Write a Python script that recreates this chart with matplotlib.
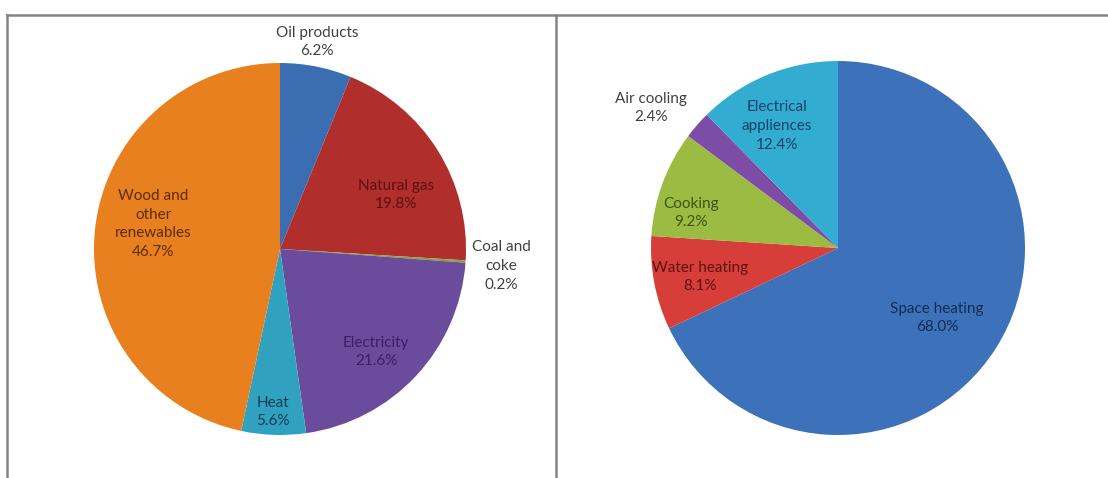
import matplotlib
matplotlib.use("Agg")
import matplotlib.pyplot as plt

# Final energy consumption by fuel (left) and by end use (right), percent
fuel_names = ["Oil products", "Natural gas", "Coal and\ncoke", "Electricity", "Heat",
              "Wood and\nother\nrenewables"]
fuel_share = [6.2, 19.8, 0.2, 21.6, 5.6, 46.7]
fuel_colors = ["#3b6db3", "#b02e2c", "#8aa53c", "#6b4c9c", "#30a2bf", "#e8801f"]
fuel_text = ["#404040", "#5a1210", "#404040", "#3a1f66", "#0f3d57", "#5a2d06"]

use_names = ["Space heating", "Water heating", "Cooking", "Air cooling",
             "Electrical\nappliences"]
use_share = [68.0, 8.1, 9.2, 2.4, 12.4]
use_colors = ["#3d72bb", "#d73e3a", "#9bbb42", "#7c4ca7", "#33acd2"]
use_text = ["#142b55", "#5c1312", "#3a5512", "#404040", "#13426b"]

W, H = 1108, 478
plt.rcParams["font.family"] = ["Lato", "DejaVu Sans"]

fig = plt.figure(figsize=(W / 100, H / 100), dpi=100)
ax = fig.add_axes([0, 0, 1, 1])

def py(y):
    # pixel rows counted from the top
    return H - y

def draw_pie(share, colors, cx, cy, r):
    ax.pie(share, colors=colors, startangle=90, counterclock=False,
           center=(cx, py(cy)), radius=r, frame=True,
           wedgeprops=dict(edgecolor="none", linewidth=0))

draw_pie(fuel_share, fuel_colors, 280, 249, 186)
draw_pie(use_share, use_colors, 838, 248, 187)

# label anchor points (pixels) for each slice
fuel_pos = [(317, 42), (396, 195), (501, 266), (376, 352), (273, 412), (153, 224)]
use_pos = [(937, 318), (700, 277), (691, 213), (651, 108), (777, 126)]

for names, vals, pos, tc in [(fuel_names, fuel_share, fuel_pos, fuel_text),
                             (use_names, use_share, use_pos, use_text)]:
    for n, v, (x, y), c in zip(names, vals, pos, tc):
        ax.text(x, py(y), f"{n}\n{v:.1f}%", ha="center", va="center",
                fontsize=11, color=c, linespacing=1.45)

# panel borders
line_kw = dict(color="#858585", linewidth=1.8)
ax.plot([7, W], [py(15), py(15)], **line_kw)
ax.plot([7, 7], [py(15), 0], **line_kw)
ax.plot([556, 556], [py(15), 0], **line_kw)

ax.set_xlim(0, W)
ax.set_ylim(0, H)
ax.set_aspect("auto")
ax.axis("off")

fig.savefig("out.png", dpi=100, facecolor="white")
